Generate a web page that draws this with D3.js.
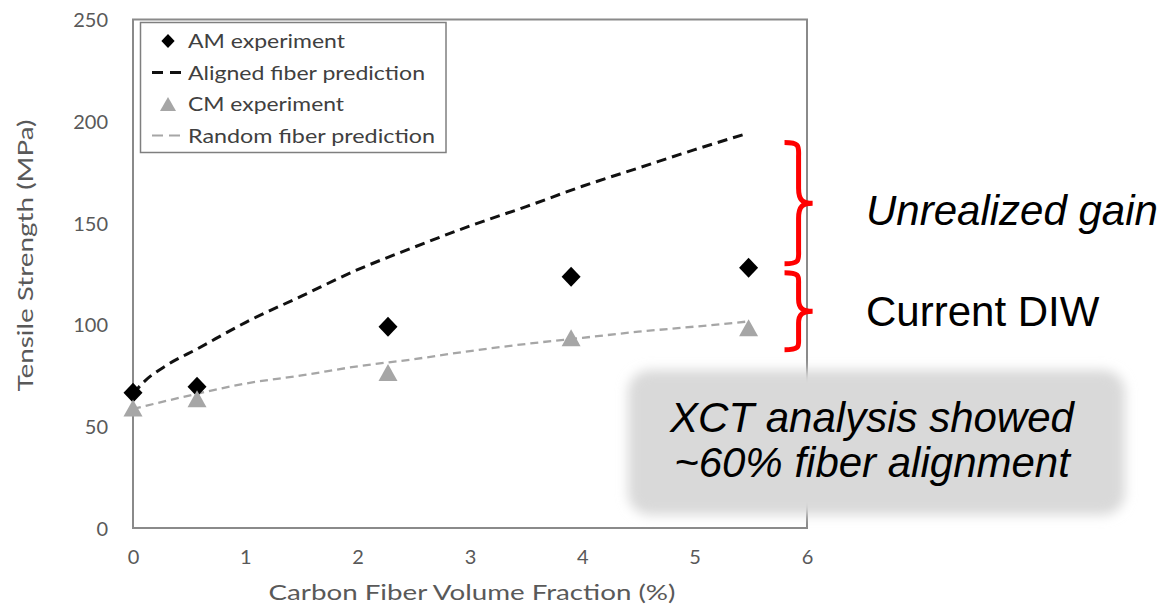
<!DOCTYPE html>
<html><head><meta charset="utf-8">
<script src="https://cdn.jsdelivr.net/npm/d3@7"></script>
<style>
html,body{margin:0;padding:0;background:#fff;}
svg{display:block;}
</style></head><body>
<svg id="chart" width="1163" height="606"></svg>
<script>
// Measured tensile strength (MPa) vs carbon fiber volume fraction (%)
const amX = [0, 0.57, 2.27, 3.9, 5.48];
const amY = [66.5, 69.5, 99, 123.5, 128];
const cmX = [0, 0.57, 2.27, 3.9, 5.48];
const cmY = [59, 63.5, 76.5, 93.5, 98.5];

// Model predictions, sampled along each curve
const alignedX = [0, 0.1, 0.3, 0.57, 1.0, 1.5, 2.0, 2.5, 3.0, 3.5, 4.0, 4.5, 5.0, 5.47];
const alignedY = [66, 72, 80, 88, 101, 114, 127, 138, 148.5, 158, 168, 177, 186, 194];
const randomX = [0, 0.57, 1.0, 1.5, 2.0, 2.5, 3.0, 3.5, 4.0, 4.5, 5.0, 5.47];
const randomY = [58.5, 66, 71, 75, 79.5, 83, 87, 90.5, 93.5, 96.5, 99, 101.5];

const xTicks = [0, 1, 2, 3, 4, 5, 6];
const yTicks = [0, 50, 100, 150, 200, 250];
const legendLabels = ["AM experiment", "Aligned fiber prediction", "CM experiment", "Random fiber prediction"];
const xTitle = "Carbon Fiber Volume Fraction (%)";
const yTitle = "Tensile Strength (MPa)";

// Bracketed ranges (MPa) with their labels
const braceLabels = ["Unrealized gain", "Current DIW"];
const braceTop = [189.5, 125.5];
const braceBottom = [129.9, 87.6];
const braceItalic = [true, false];
const calloutLines = ["XCT analysis showed", "~60% fiber alignment"];

const svg = d3.select("#chart");
svg.append("rect").attr("width", 1163).attr("height", 606).attr("fill", "#fff");

const x = d3.scaleLinear().domain([0, 6]).range([133, 807]);
const y = d3.scaleLinear().domain([0, 250]).range([528, 19.5]);

const chartFont = "Lato, 'Open Sans', sans-serif";
const axisGray = "#595959";

// Axes (labels only, no tick marks)
const yAxis = svg.append("g").attr("transform", `translate(${x(0)},0)`)
  .call(d3.axisLeft(y).tickValues(yTicks).tickSize(0).tickFormat(d3.format("d")));
yAxis.select(".domain").remove();
yAxis.selectAll("text").attr("x", -25).attr("dy", "0.36em")
  .attr("font-family", chartFont).attr("font-size", 20).attr("fill", axisGray);

const xAxis = svg.append("g").attr("transform", `translate(0,${y(0)})`)
  .call(d3.axisBottom(x).tickValues(xTicks).tickSize(0).tickFormat(d3.format("d")));
xAxis.select(".domain").remove();
xAxis.selectAll("text").attr("y", 29).attr("dy", "0.36em")
  .attr("font-family", chartFont).attr("font-size", 20).attr("fill", axisGray);

// Plot-area frame
svg.append("rect")
  .attr("x", x(0)).attr("y", y(250))
  .attr("width", x(6) - x(0)).attr("height", y(0) - y(250))
  .attr("fill", "none").attr("stroke", "#8a8a8a").attr("stroke-width", 2);

// Axis titles
svg.append("text").text(xTitle)
  .attr("x", (x(0) + x(6)) / 2 + 2).attr("y", 600)
  .attr("text-anchor", "middle").attr("font-family", chartFont).attr("font-size", 22)
  .attr("fill", axisGray).attr("textLength", 407).attr("lengthAdjust", "spacingAndGlyphs");

svg.append("text").text(yTitle)
  .attr("transform", `translate(33,255.5) rotate(-90)`)
  .attr("text-anchor", "middle").attr("font-family", chartFont).attr("font-size", 22)
  .attr("fill", axisGray).attr("textLength", 272).attr("lengthAdjust", "spacingAndGlyphs");

// Prediction curves
const line = d3.line().x(d => x(d[0])).y(d => y(d[1])).curve(d3.curveMonotoneX);
svg.append("path").datum(d3.zip(randomX, randomY)).attr("d", line)
  .attr("fill", "none").attr("stroke", "#a6a6a6").attr("stroke-width", 2.3)
  .attr("stroke-dasharray", "8,5");
svg.append("path").datum(d3.zip(alignedX, alignedY)).attr("d", line)
  .attr("fill", "none").attr("stroke", "#111").attr("stroke-width", 3)
  .attr("stroke-dasharray", "10,6");

// Marker shapes
const diamond = s => `M0,${-s}L${s * 0.95},0L0,${s}L${-s * 0.95},0Z`;
const triangle = (w, h) => `M0,${-h / 2}L${w / 2},${h / 2}L${-w / 2},${h / 2}Z`;

svg.append("g").selectAll("path").data(d3.zip(amX, amY)).join("path")
  .attr("transform", d => `translate(${x(d[0])},${y(d[1])})`)
  .attr("d", diamond(10)).attr("fill", "#000");

svg.append("g").selectAll("path").data(d3.zip(cmX, cmY)).join("path")
  .attr("transform", d => `translate(${x(d[0])},${y(d[1])})`)
  .attr("d", triangle(19, 17)).attr("fill", "#a6a6a6");

// Legend
const legend = svg.append("g");
legend.append("rect").attr("x", 140.5).attr("y", 22.5).attr("width", 305.5).attr("height", 130)
  .attr("fill", "#fff").attr("stroke", "#7f7f7f").attr("stroke-width", 1.5);
const rowY = [41, 72.5, 104, 135.5];
const legendWidths = [157, 237, 156, 247];
legendLabels.forEach((lab, i) => {
  legend.append("text").text(lab).attr("x", 188).attr("y", rowY[i] + 7)
    .attr("font-family", chartFont).attr("font-size", 20).attr("fill", "#404040")
    .attr("textLength", legendWidths[i]).attr("lengthAdjust", "spacingAndGlyphs");
});
legend.append("path").attr("transform", `translate(168,${rowY[0]})`).attr("d", diamond(7)).attr("fill", "#000");
legend.append("line").attr("x1", 152).attr("x2", 184).attr("y1", rowY[1]).attr("y2", rowY[1])
  .attr("stroke", "#111").attr("stroke-width", 3).attr("stroke-dasharray", "11,7");
legend.append("path").attr("transform", `translate(168,${rowY[2]})`).attr("d", triangle(16, 14)).attr("fill", "#a6a6a6");
legend.append("line").attr("x1", 152).attr("x2", 181).attr("y1", rowY[3]).attr("y2", rowY[3])
  .attr("stroke", "#a6a6a6").attr("stroke-width", 2).attr("stroke-dasharray", "11,6");

// Red curly braces with labels
function bracePath(x0, x1, y0, y1, r) {
  const xm = (x0 + x1) / 2, ym = (y0 + y1) / 2;
  return `M${x0},${y0}C${xm + 2},${y0} ${xm},${y0 + 4} ${xm},${y0 + r}` +
    `L${xm},${ym - r}C${xm},${ym - 3} ${xm + 4},${ym} ${x1},${ym}` +
    `C${xm + 4},${ym} ${xm},${ym + 3} ${xm},${ym + r}` +
    `L${xm},${y1 - r}C${xm},${y1 - 4} ${xm + 2},${y1} ${x0},${y1}`;
}
const labelShift = [22, 15];
braceLabels.forEach((lab, i) => {
  const y0 = y(braceTop[i]), y1 = y(braceBottom[i]);
  svg.append("path").attr("d", bracePath(x(5.8), x(6.05), y0, y1, i === 0 ? 15 : 12))
    .attr("fill", "none").attr("stroke", "#ff0000").attr("stroke-width", 5)
    .attr("stroke-linecap", "butt");
  svg.append("text").text(lab).attr("x", 866).attr("y", (y0 + y1) / 2 + labelShift[i])
    .attr("font-family", "'Liberation Sans', Arial, sans-serif").attr("font-size", 42)
    .attr("font-style", braceItalic[i] ? "italic" : "normal").attr("fill", "#000");
});

// Soft grey callout
const defs = svg.append("defs");
defs.append("filter").attr("id", "soft").attr("x", "-10%").attr("y", "-20%")
  .attr("width", "120%").attr("height", "140%")
  .append("feGaussianBlur").attr("stdDeviation", 6);
svg.append("rect").attr("x", 628).attr("y", 370).attr("width", 497).attr("height", 145)
  .attr("rx", 22).attr("fill", "#d9d9d9").attr("filter", "url(#soft)");
calloutLines.forEach((t, i) => {
  svg.append("text").text(t).attr("x", 872).attr("y", 432 + i * 45)
    .attr("text-anchor", "middle")
    .attr("font-family", "'Liberation Sans', Arial, sans-serif").attr("font-size", 42)
    .attr("font-style", "italic").attr("fill", "#000");
});
</script>
</body></html>
